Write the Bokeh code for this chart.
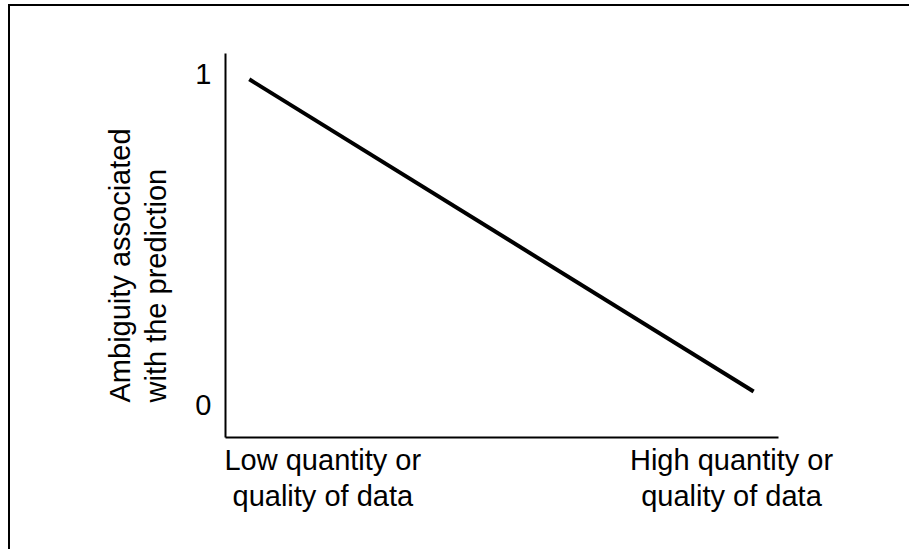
from bokeh.plotting import figure
from bokeh.models import FixedTicker, Range1d, Title
from bokeh.embed import file_html
from bokeh.resources import INLINE

# data
x_vals = [0.043, 0.955]
y_vals = [0.985, 0.042]
y_ticks = [0, 1]
x_ticks = [0.176, 0.915]
x_tick_labels = ["Low quantity or\nquality of data", "High quantity or\nquality of data"]
y_title = "Ambiguity associated\nwith the prediction"

FONT = "Liberation Sans"
FS = "29px"

p = figure(width=901, height=545, output_backend="svg", toolbar_location=None,
           x_range=Range1d(0, 1), y_range=Range1d(-0.097, 1.063),
           min_border_left=215, min_border_top=47, min_border_right=133, min_border_bottom=114)
p.styles = {"border-left": "2px solid black", "border-top": "2px solid black",
            "margin-left": "8px", "margin-top": "4px"}

p.line(x_vals, y_vals, line_color="black", line_width=4)

p.grid.visible = False
p.outline_line_color = None

ya = p.yaxis[0]
ya.ticker = FixedTicker(ticks=y_ticks)
ya.major_tick_line_color = None
ya.minor_tick_line_color = None
ya.axis_line_width = 2
ya.axis_line_color = "black"
ya.major_label_text_font = FONT
ya.major_label_text_font_size = FS
ya.major_label_text_color = "black"
ya.major_label_standoff = 8

t = Title(text=y_title, align="left", offset=35, standoff=40,
          text_font=FONT, text_font_size=FS, text_font_style="normal",
          text_color="black", text_line_height=1.15)
p.add_layout(t, "left")

xa = p.xaxis[0]
xa.ticker = FixedTicker(ticks=x_ticks)
xa.major_label_overrides = {tk: lb for tk, lb in zip(x_ticks, x_tick_labels)}
xa.major_tick_line_color = None
xa.minor_tick_line_color = None
xa.axis_line_width = 2
xa.axis_line_color = "black"
xa.major_label_text_font = FONT
xa.major_label_text_font_size = FS
xa.major_label_text_color = "black"
xa.major_label_text_line_height = 1.15
xa.major_label_standoff = 0

open("out.html", "w").write(file_html(p, INLINE))
